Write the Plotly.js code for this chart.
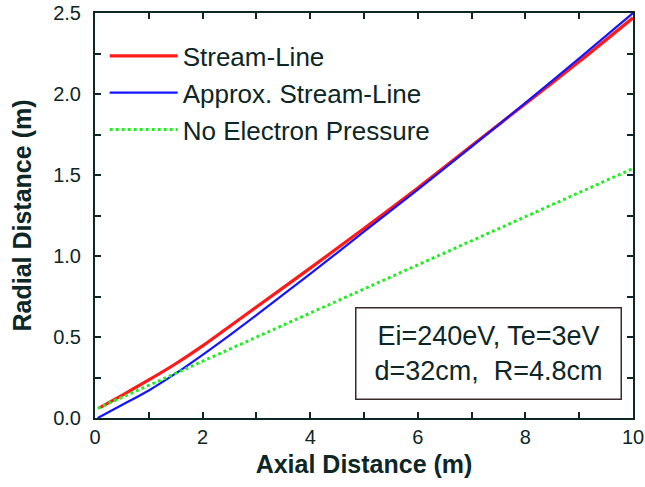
<!DOCTYPE html>
<html>
<head>
<meta charset="utf-8">
<script src="https://cdn.plot.ly/plotly-3.0.1.min.js"></script>
<style>html,body{margin:0;padding:0;background:#fff}#chart{width:645px;height:487px}</style>
</head>
<body>
<div id="chart"></div>
<script>
// Data
var streamX = [0.1, 0.5, 1, 1.5, 2, 2.5, 3, 4, 5, 6, 7, 8, 9, 10];
var streamY = [0.065, 0.14, 0.235, 0.335, 0.445, 0.565, 0.685, 0.925, 1.17, 1.42, 1.68, 1.94, 2.2, 2.47];
var approxX = [0.05, 0.5, 1, 1.5, 2, 2.5, 3, 4, 5, 6, 7, 8, 9, 10];
var approxY = [0.0, 0.08, 0.17, 0.275, 0.39, 0.51, 0.635, 0.89, 1.15, 1.41, 1.675, 1.945, 2.22, 2.50];
var noPressX = [0.05, 10];
var noPressY = [0.06, 1.54];
var seriesNames = ["Stream-Line", "Approx. Stream-Line", "No Electron Pressure"];
var xTicks = [0, 2, 4, 6, 8, 10];
var yTicks = [0.0, 0.5, 1.0, 1.5, 2.0, 2.5];
var yTickText = ["0.0", "0.5", "1.0", "1.5", "2.0", "2.5"];
var boxText = "Ei=240eV, Te=3eV<br>d=32cm,  R=4.8cm";

var ink = '#0d2626';
var traces = [
  {x: streamX, y: streamY, name: seriesNames[0], mode: 'lines', line: {color: '#ff1a1a', width: 3.2, shape: 'spline', smoothing: 0.8}},
  {x: approxX, y: approxY, name: seriesNames[1], mode: 'lines', line: {color: '#1414ff', width: 2.2, shape: 'spline', smoothing: 0.8}},
  {x: noPressX, y: noPressY, name: seriesNames[2], mode: 'lines', line: {color: '#22ee22', width: 3, dash: 'dot'}}
];
var axisCommon = {
  showline: true, linecolor: ink, linewidth: 2, mirror: 'ticks',
  ticks: 'inside', ticklen: 6, tickwidth: 2, tickcolor: ink,
  showgrid: false, zeroline: false,
  tickfont: {family: 'Liberation Sans, Arial, sans-serif', size: 20, color: ink}
};
var layout = {
  width: 645, height: 487,
  margin: {l: 95, r: 12, t: 13, b: 69},
  paper_bgcolor: '#fff', plot_bgcolor: '#fff',
  font: {family: 'Liberation Sans, Arial, sans-serif', color: ink},
  xaxis: Object.assign({}, axisCommon, {
    range: [0, 10], tickvals: xTicks, ticktext: xTicks.map(String),
    minor: {dtick: 1, tick0: 0, ticks: 'inside', ticklen: 6, tickwidth: 2, tickcolor: ink, showgrid: false},
    title: {text: '<b>Axial Distance (m)</b>', font: {size: 25, color: ink}, standoff: 8}
  }),
  yaxis: Object.assign({}, axisCommon, {
    range: [0, 2.5], tickvals: yTicks, ticktext: yTickText, ticklabelstandoff: 8,
    minor: {dtick: 0.25, tick0: 0, ticks: 'inside', ticklen: 6, tickwidth: 2, tickcolor: ink, showgrid: false},
    title: {text: '<b>Radial Distance (m)</b>', font: {size: 25, color: ink}, standoff: 14}
  }),
  legend: {
    x: 0.018, y: 0.952, xanchor: 'left', yanchor: 'top',
    bgcolor: 'rgba(0,0,0,0)', borderwidth: 0,
    font: {size: 26, color: ink}, itemwidth: 68, tracegroupgap: 0
  },
  annotations: [{
    xref: 'paper', yref: 'paper', x: 0.731, y: 0.159,
    xanchor: 'center', yanchor: 'middle', showarrow: false,
    text: boxText, align: 'center',
    font: {size: 27, color: ink},
    bordercolor: '#3a2a2a', borderwidth: 1.5, borderpad: 6,
    width: 252, height: 78
  }],
  showlegend: true
};
Plotly.newPlot('chart', traces, layout, {displayModeBar: false, staticPlot: true});
</script>
</body>
</html>
